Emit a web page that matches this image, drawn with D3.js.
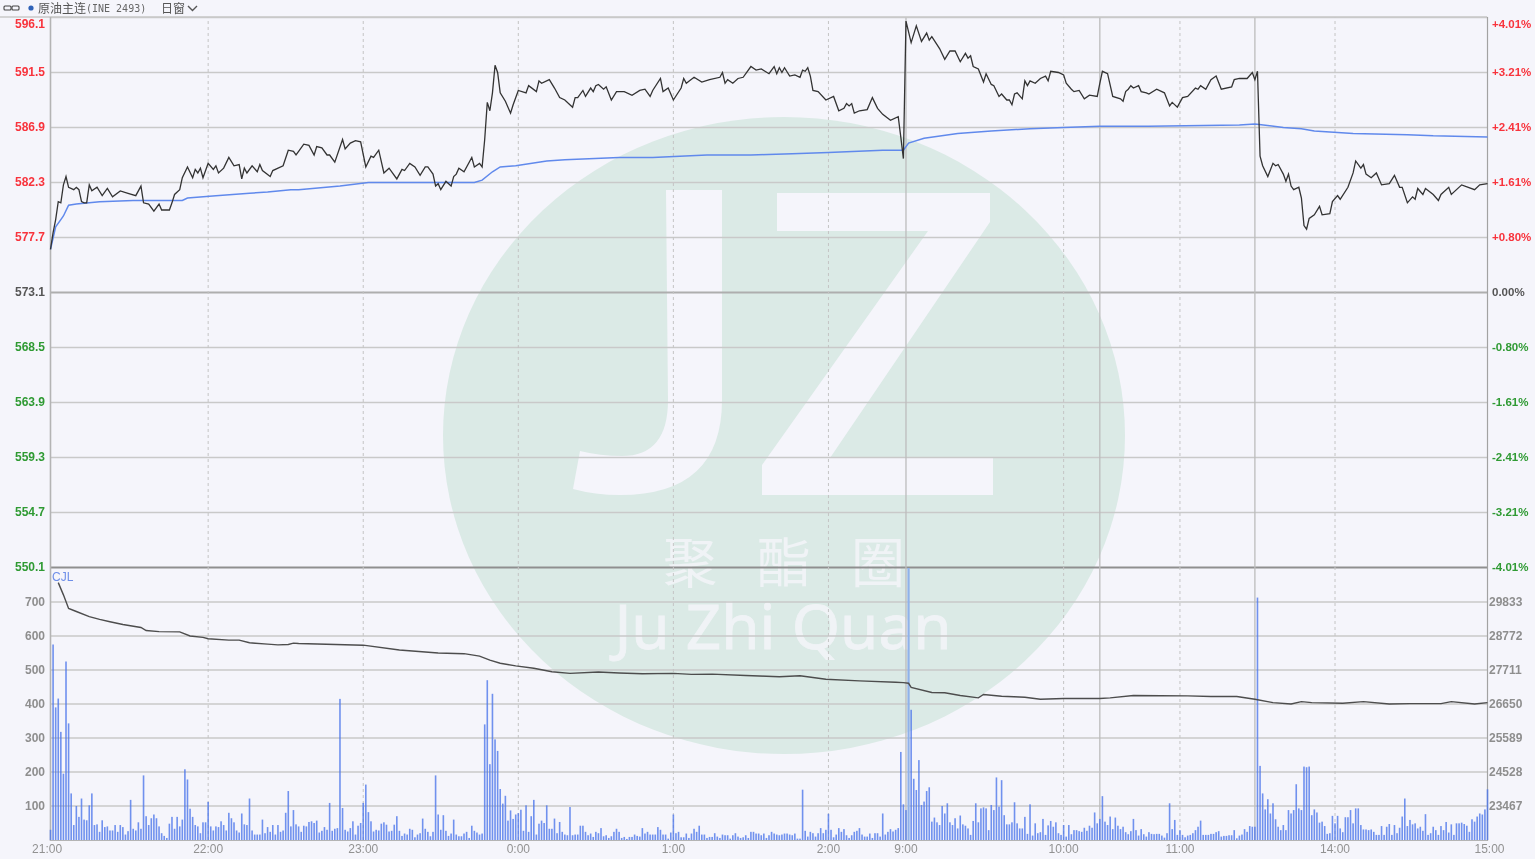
<!DOCTYPE html>
<html><head><meta charset="utf-8">
<script src="https://cdn.jsdelivr.net/npm/d3@7/dist/d3.min.js"></script>
<style>
html,body{margin:0;padding:0;background:#f5f5fb;overflow:hidden}
svg{display:block;filter:blur(0.4px)}
text{font-family:"Liberation Sans",Arial,sans-serif}
</style></head><body>
<svg id="c" width="1535" height="859"></svg>
<script>
const priceTicks=[596.1,591.5,586.9,582.3,577.7,573.1,568.5,563.9,559.3,554.7,550.1];
const pctLabels=["+4.01%","+3.21%","+2.41%","+1.61%","+0.80%","0.00%","-0.80%","-1.61%","-2.41%","-3.21%","-4.01%"];
const volTicks=[100,200,300,400,500,600,700];
const volRight=["23467","24528","25589","26650","27711","28772","29833"];
const timeTicks=[1,61,121,181,241,301,331,392,437,497,556];
const timeLabels=["21:00","22:00","23:00","0:00","1:00","2:00","9:00","10:00","11:00","14:00","15:00"];
const sessionBreaks=[331,406,466];

const priceIdx=[0,1,2,3,4,5,6,7,9,10,11,12,13,14,15,16,18,20,22,24,27,30,33,35,36,38,40,42,43,46,47,48,50,51,53,55,56,57,58,59,61,63,64,65,67,69,71,73,74,75,76,78,80,81,82,85,86,90,92,94,95,96,98,100,102,103,105,107,108,110,113,114,116,118,120,122,124,125,127,129,131,134,136,137,139,141,143,145,146,148,149,150,151,153,155,156,157,158,160,163,164,166,167,168,169,170,171,172,173,174,176,178,179,181,184,185,188,189,190,193,195,197,199,202,203,204,206,207,209,210,211,212,214,215,217,219,220,222,225,228,230,232,233,236,237,239,241,244,245,246,249,252,255,259,260,261,262,264,266,268,271,273,275,278,280,281,282,283,284,286,288,290,291,292,293,294,295,297,300,303,305,307,308,309,310,311,313,316,318,320,322,325,328,329,330,331,333,335,337,339,340,341,344,346,348,350,352,354,355,356,357,359,361,362,364,365,367,368,370,371,372,373,374,376,377,378,379,381,383,385,386,387,390,392,393,395,396,398,400,402,405,406,407,409,411,414,415,416,417,418,419,421,422,424,425,428,430,431,433,434,436,438,440,443,444,445,447,449,451,453,457,458,460,463,465,466,467,468,469,471,473,474,475,477,478,479,480,481,483,484,485,486,487,489,491,492,495,496,498,499,502,504,505,507,508,509,511,513,515,518,520,522,523,525,527,528,529,531,532,535,537,538,541,542,546,551,553,556];
const priceVal=[576.7,578.1,579.2,580.7,580.6,582.1,582.8,581.9,581.7,581.9,581.7,580.7,580.6,580.6,582.1,581.6,581.9,581.2,581.8,581.1,581.6,581.4,581.2,582.0,580.6,580.5,579.9,580.5,580.0,580.0,580.6,581.3,581.7,582.7,583.6,582.7,583.4,583.1,583.5,582.7,583.9,583.4,583.7,583.1,583.5,584.4,583.7,583.8,582.6,583.5,583.1,583.7,583.2,583.8,583.3,582.8,583.3,583.7,585.0,584.9,584.6,584.9,585.5,585.4,584.6,585.3,585.2,584.6,584.6,584.0,585.9,585.1,585.6,585.8,585.7,583.6,584.5,584.4,585.0,583.1,583.5,582.6,583.4,583.3,583.9,583.6,582.9,583.6,583.6,583.0,582.0,582.2,581.7,582.4,582.0,582.8,583.0,583.5,583.2,584.4,583.6,583.9,583.6,585.9,589.0,588.3,589.8,592.1,591.5,589.8,589.1,588.1,588.8,590.0,589.8,590.4,589.9,590.8,590.6,590.9,590.2,589.4,589.2,588.6,589.4,589.4,590.0,589.5,590.2,589.9,590.4,590.5,590.1,590.3,589.2,589.9,589.9,589.9,589.6,590.0,590.1,589.5,590.0,591.0,589.9,590.2,589.2,590.2,591.0,590.6,591.1,590.7,590.9,591.1,591.5,590.6,590.9,590.6,591.0,591.1,592.0,591.7,591.8,591.4,592.0,591.4,591.9,591.5,591.9,591.2,591.3,591.1,591.7,591.6,591.9,591.2,590.0,589.9,589.2,589.5,588.3,588.5,588.9,588.7,588.9,588.1,588.3,588.4,589.4,588.5,588.0,587.5,587.8,586.1,584.3,595.8,594.0,595.4,594.1,594.8,594.2,594.5,593.5,592.6,593.3,593.3,592.4,593.1,592.7,592.9,592.0,591.8,590.7,591.4,590.5,590.4,589.5,589.7,589.2,589.2,588.8,589.7,589.8,589.3,590.8,590.4,590.8,590.6,591.0,591.2,590.8,591.6,591.5,591.3,590.6,590.1,589.9,590.0,589.3,589.6,589.5,590.6,591.6,591.4,589.5,589.3,589.1,589.9,590.1,590.4,590.2,590.4,589.9,589.8,589.7,590.1,589.9,589.8,588.7,589.0,588.6,589.4,589.5,590.2,590.1,590.4,590.1,590.9,591.2,590.1,590.3,590.9,591.0,591.0,591.5,590.9,591.6,584.5,583.7,582.8,583.9,583.7,583.8,583.0,582.4,583.0,582.0,581.7,581.9,581.0,578.7,578.4,579.3,579.6,580.3,579.6,579.7,580.7,581.2,580.9,581.9,583.1,584.1,583.5,583.8,583.0,582.7,583.1,582.1,582.2,582.9,581.9,581.9,580.6,581.1,580.9,581.8,581.3,581.8,581.3,580.8,581.3,581.9,581.3,582.1,581.7,582.1,582.2];

const avgIdx=[0,2,4,5,7,10,19,32,38,51,53,64,77,84,93,96,112,123,135,164,167,171,174,180,192,199,220,233,254,271,287,301,322,330,332,338,351,364,379,392,406,425,460,466,477,484,489,504,525,535,556];
const avgVal=[576.7,578.6,579.2,579.5,580.4,580.5,580.7,580.8,580.8,580.8,581.0,581.2,581.4,581.5,581.7,581.7,582.0,582.3,582.3,582.3,582.5,583.2,583.6,583.7,584.1,584.2,584.4,584.4,584.6,584.6,584.7,584.8,585.0,585.0,585.6,586.0,586.4,586.6,586.8,586.9,587.0,587.0,587.1,587.2,586.9,586.8,586.6,586.4,586.3,586.2,586.1];

const avgVolIdx=[3,5,7,10,15,19,23,28,35,37,42,50,54,59,61,69,73,77,84,88,92,94,96,121,135,150,160,166,170,174,180,187,194,201,212,220,229,241,248,256,269,282,290,300,313,327,330,332,333,341,346,352,359,361,368,377,383,392,406,410,419,440,449,459,466,473,480,484,488,500,508,518,526,538,542,551,556];
const avgVolVal=[757,721,681,672,657,649,642,634,625,616,613,612,600,596,592,588,588,580,576,574,575,579,578,573,559,550,548,541,529,520,512,505,495,490,494,491,489,490,487,488,484,480,483,473,468,464,463,461,449,434,433,425,418,428,423,420,414,416,416,418,425,424,422,422,414,404,400,407,404,402,407,400,401,401,407,400,404];

const volume=[30,575,390,416,318,195,525,343,137,44,100,68,122,60,58,102,137,44,46,24,58,38,40,28,28,44,24,44,38,16,26,118,33,28,52,33,190,70,44,64,75,64,40,20,12,6,48,68,33,68,40,60,208,178,92,68,44,40,20,52,52,112,40,28,40,38,55,44,28,80,64,52,28,22,78,46,44,122,28,16,16,16,60,20,38,24,44,16,44,24,28,80,144,40,88,46,40,
24,42,40,53,55,50,57,22,27,38,30,109,27,33,35,415,94,30,25,35,55,16,42,50,109,163,82,55,25,30,28,48,52,45,25,27,45,70,27,12,19,16,33,30,8,16,20,63,33,24,11,24,190,75,30,73,27,12,19,60,16,11,11,19,24,6,42,27,22,16,19,340,470,223,430,296,262,150,107,130,57,87,62,75,79,89,27,102,24,70,118,16,48,57,50,102,33,33,63,20,53,24,16,14,97,14,16,16,42,42,24,14,19,9,24,20,35,11,14,6,11,24,33,24,
6,9,3,9,9,16,12,10,35,19,24,16,16,16,38,30,16,16,4,22,75,20,24,8,8,19,6,19,33,24,42,16,16,6,9,9,20,10,6,16,14,14,4,14,20,10,6,8,14,6,24,24,19,19,14,19,6,14,24,19,16,14,16,19,19,16,14,19,4,4,148,27,10,24,20,10,20,35,20,30,77,30,8,16,35,24,32,14,6,14,24,27,35,16,10,10,19,6,20,20,10,78,16,24,32,25,30,35,
259,105,88,800,383,180,147,235,103,113,144,155,54,66,52,44,100,78,108,52,44,64,34,72,46,42,34,15,56,108,52,93,96,93,29,103,88,184,98,176,73,46,46,52,111,49,34,34,68,18,105,13,49,20,23,62,15,43,56,39,52,20,15,44,10,44,17,29,29,26,24,36,27,42,36,81,49,62,129,54,44,69,32,66,42,32,39,23,17,26,62,29,13,32,17,10,23,18,17,18,18,13,7,20,108,32,59,15,29,15,8,13,15,20,29,39,57,15,15,15,
18,18,23,26,10,12,12,14,14,29,5,13,16,32,24,41,39,39,713,218,137,90,120,78,108,61,39,29,44,29,88,78,88,164,93,88,216,214,216,73,90,81,51,54,41,18,20,71,49,71,34,23,67,67,88,49,93,93,44,31,31,29,31,24,15,15,41,15,39,47,15,44,20,36,69,122,41,59,46,49,34,39,27,76,15,20,39,29,15,41,29,53,22,46,15,49,49,51,47,42,24,61,54,69,78,75,90,149];

const L=50.5,R=1487.5,W=R-L;
const x=d3.scaleLinear().domain([0,556]).range([L,R]);
const yP=d3.scaleLinear().domain([550.1,596.1]).range([567.5,17.5]);
const yV=d3.scaleLinear().domain([0,800]).range([840,568]);
const svg=d3.select("#c");
svg.append("rect").attr("width",1535).attr("height",859).attr("fill","#f5f5fb");

// watermark
const wm=svg.append("g");
wm.append("ellipse").attr("cx",784).attr("cy",435.5).attr("rx",341).attr("ry",318.5).attr("fill","#dbeae6");
wm.append("path").attr("fill","#f5f5fb").attr("d","M666 190L722 190L722 400Q722 495 620 495Q595 495 573 489L580 451Q600 456 622 456Q668 456 668 400Z");
wm.append("path").attr("fill","#f5f5fb").attr("d","M777 193L990 193L990 222L830 458L993 458L993 495L762 495L762 465L928 231L777 231Z");
wm.append("text").attr("x",791).attr("y",583).attr("text-anchor","middle").attr("font-size",54).attr("fill","#f0f3f6").style("font-family",'"Noto Sans CJK SC"').attr("xml:space","preserve").text("聚 酯 圈").style("letter-spacing","14px");
wm.append("text").attr("x",783).attr("y",649).attr("text-anchor","middle").attr("font-size",62).attr("fill","#f0f3f6").style("font-family",'"Noto Sans","Open Sans",sans-serif').attr("stroke","#f0f3f6").attr("stroke-width",0.8).text("Ju Zhi Quan");

// grids through axes
const gridCol="#c9c9c9";
const gridP=svg.append("g").attr("transform",`translate(${L},0)`).call(d3.axisLeft(yP).offset(0).tickValues(priceTicks).tickSize(-W).tickFormat(""));
gridP.select(".domain").remove();
gridP.selectAll("line").attr("stroke",d=>d===573.1?"#aeaeae":d===550.1?"#8f8f8f":gridCol).attr("stroke-width",d=>(d===573.1||d===550.1)?2:1.4);
const gridV=svg.append("g").attr("transform",`translate(${L},0)`).call(d3.axisLeft(yV).offset(0).tickValues(volTicks).tickSize(-W).tickFormat(""));
gridV.select(".domain").remove();
gridV.selectAll("line").attr("stroke",gridCol).attr("stroke-width",1.4);
const gridX=svg.append("g").attr("transform","translate(0,840)").call(d3.axisTop(x).offset(0).tickValues(timeTicks.filter(t=>t>1&&t<556&&!sessionBreaks.includes(t))).tickSize(823).tickFormat(""));
gridX.select(".domain").remove();
gridX.selectAll("line").attr("stroke","#c4c4c4").attr("stroke-width",1).attr("stroke-dasharray","3,3");
const gridS=svg.append("g").attr("transform","translate(0,840)").call(d3.axisTop(x).offset(0).tickValues(sessionBreaks).tickSize(823).tickFormat(""));
gridS.select(".domain").remove();
gridS.selectAll("line").attr("stroke","#bcbcbc").attr("stroke-width",1.3);

// frame
svg.append("line").attr("x1",0).attr("x2",1487).attr("y1",17).attr("y2",17).attr("stroke","#c8c8c8").attr("stroke-width",1.5);
svg.append("line").attr("x1",L).attr("x2",L).attr("y1",17).attr("y2",841).attr("stroke","#b4b4b4").attr("stroke-width",1.6);
svg.append("line").attr("x1",R).attr("x2",R).attr("y1",17).attr("y2",841).attr("stroke","#a2a2a2").attr("stroke-width",1.2);
svg.append("line").attr("x1",L).attr("x2",R).attr("y1",840.5).attr("y2",840.5).attr("stroke","#b4b4b4").attr("stroke-width",1.2);

// volume bars
svg.append("g").selectAll("rect").data(volume).join("rect")
 .attr("x",(d,i)=>x(i)-(i===332?1.1:0.8)).attr("width",(d,i)=>i===332?2.2:1.6)
 .attr("y",d=>yV(d)).attr("height",d=>yV(0)-yV(d))
 .attr("fill",(d,i)=>i===332?"#8fb1ea":"#4a74ea").attr("fill-opacity",(d,i)=>i===332?1:0.78);

// lines
const zip=(a,b)=>a.map((k,i)=>[k,b[i]]);
svg.append("path").attr("fill","none").attr("stroke","#4d4d4d").attr("stroke-width",1.4)
 .attr("d",d3.line().x(d=>x(d[0])).y(d=>yV(d[1]))(zip(avgVolIdx,avgVolVal)));
svg.append("path").attr("fill","none").attr("stroke","#6089ec").attr("stroke-width",1.5)
 .attr("d",d3.line().x(d=>x(d[0])).y(d=>yP(d[1]))(zip(avgIdx,avgVal)));
svg.append("path").attr("fill","none").attr("stroke","#333").attr("stroke-width",1.3)
 .attr("d",d3.line().x(d=>x(d[0])).y(d=>yP(d[1]))(zip(priceIdx,priceVal)));

// axis labels
const colP=d=>d>573.1?"#f8333c":d<573.1?"#2f9a33":"#555";
const axL=svg.append("g").attr("transform",`translate(50,0)`).call(d3.axisLeft(yP).offset(0).tickValues(priceTicks).tickSize(0).tickPadding(5).tickFormat(d3.format(".1f")));
axL.select(".domain").remove();
axL.selectAll("text").attr("font-size",12).attr("font-weight","bold").style("font-family",'"Liberation Sans"').attr("fill",colP).attr("y",d=>d===596.1?6.5:0);
const pctOf=d=>pctLabels[priceTicks.indexOf(d)];
const axR=svg.append("g").attr("transform",`translate(1487,0)`).call(d3.axisRight(yP).offset(0).tickValues(priceTicks).tickSize(0).tickPadding(5).tickFormat(pctOf));
axR.select(".domain").remove();
axR.selectAll("text").attr("font-size",11.5).attr("font-weight","bold").style("font-family",'"Liberation Sans"').attr("fill",colP).attr("y",d=>d===596.1?6.5:0);
const axVL=svg.append("g").attr("transform",`translate(50,0)`).call(d3.axisLeft(yV).offset(0).tickValues(volTicks).tickSize(0).tickPadding(5));
axVL.select(".domain").remove();
axVL.selectAll("text").attr("font-size",12).attr("font-weight","bold").style("font-family",'"Liberation Sans"').attr("fill","#8e8e8e");
const axVR=svg.append("g").attr("transform",`translate(1487,0)`).call(d3.axisRight(yV).offset(0).tickValues(volTicks).tickSize(0).tickPadding(2).tickFormat(d=>volRight[volTicks.indexOf(d)]));
axVR.select(".domain").remove();
axVR.selectAll("text").attr("font-size",12).attr("font-weight","bold").style("font-family",'"Liberation Sans"').attr("fill","#8e8e8e");
const axT=svg.append("g").attr("transform","translate(0,841)").call(d3.axisBottom(x).offset(0).tickValues(timeTicks).tickSize(0).tickPadding(3).tickFormat(d=>timeLabels[timeTicks.indexOf(d)]));
axT.select(".domain").remove();
axT.selectAll("text").attr("font-size",12).style("font-family",'"Liberation Sans"').attr("fill","#929292").attr("dx",d=>d===1?-6:d===556?2:0);

svg.append("text").attr("x",52).attr("y",581).attr("font-size",12).attr("fill","#6e8ee8").text("CJL");

// header
const h=svg.append("g");
h.append("rect").attr("x",4).attr("y",6).attr("width",7).attr("height",4).attr("rx",1).attr("fill","none").attr("stroke","#444").attr("stroke-width",1.1);
h.append("rect").attr("x",12).attr("y",6).attr("width",7).attr("height",4).attr("rx",1).attr("fill","none").attr("stroke","#444").attr("stroke-width",1.1);
h.append("circle").attr("cx",31).attr("cy",8).attr("r",2.6).attr("fill","#2f62b8");
h.append("text").attr("x",38).attr("y",12.5).attr("font-size",12).attr("fill","#555").style("font-family",'"Noto Sans CJK SC"').text("原油主连");
h.append("text").attr("x",86).attr("y",12).attr("font-size",10).attr("fill","#666").style("font-family",'"DejaVu Sans Mono"').text("(INE 2493)");
h.append("text").attr("x",161).attr("y",12.5).attr("font-size",12).attr("fill","#555").style("font-family",'"Noto Sans CJK SC"').text("日窗");
h.append("path").attr("d","M188 6L192.5 10.5L197 6").attr("fill","none").attr("stroke","#555").attr("stroke-width",1.4);
</script>
</body></html>
